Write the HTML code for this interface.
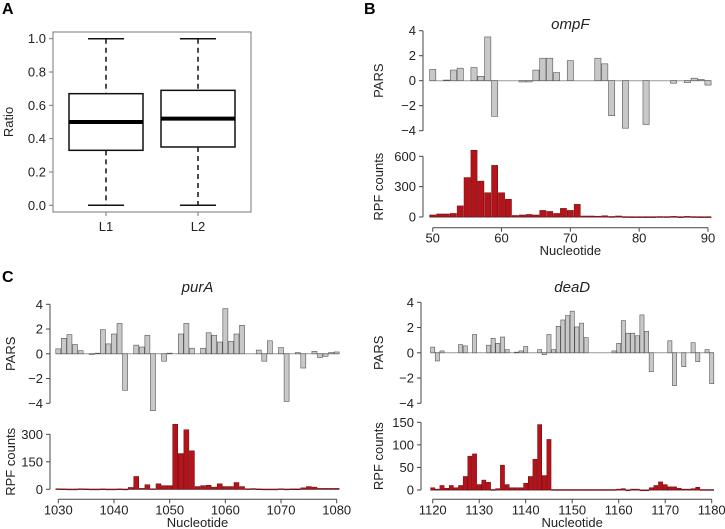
<!DOCTYPE html>
<html><head><meta charset="utf-8"><style>
body{margin:0;background:#fff}
svg{display:block;font-family:"Liberation Sans",sans-serif}
</style></head><body>
<svg id="fig" width="725" height="529" viewBox="0 0 725 529">
<text x="2" y="14" font-size="16" font-weight="bold">A</text>
<text x="364" y="14" font-size="16" font-weight="bold">B</text>
<text x="2" y="282" font-size="16" font-weight="bold">C</text>
</svg>
<script>
const boxCats=["L1","L2"];
const boxMin=[0,0];
const boxQ1=[0.33,0.35];
const boxMed=[0.50,0.52];
const boxQ3=[0.67,0.69];
const boxMax=[1,1];
const boxTicks=[0,0.2,0.4,0.6,0.8,1.0];

const ompfStart=50;
const ompfPars=[0.9,0,0.05,0.85,1.0,0,1.05,0.35,3.5,-2.85,0,0,0,-0.1,-0.1,0.85,1.8,1.8,0.65,0,1.6,0,0,0,1.8,1.35,-2.8,0,-3.8,0,0,-3.5,0,0,0,-0.2,0,-0.15,0.2,0.1,-0.35];
const ompfRpf=[20,30,30,35,110,390,660,355,240,510,240,175,15,20,25,20,65,55,35,85,65,125,10,10,8,12,5,10,3,2,2,2,2,4,3,6,2,6,3,2,2];
const ompfXTicks=[50,60,70,80,90];
const ompfRpfTicks=[0,300,600];

const puraStart=1030;
const puraPars=[0.4,1.25,1.55,0.75,0.25,0,-0.05,0.05,1.95,0.8,1.6,2.45,-2.95,0,0.7,0.55,1.5,-4.6,0,-0.6,0.05,0,1.6,2.45,0.45,0,0.45,1.7,1.5,0.95,3.65,1.0,1.6,2.3,0,0,0.3,-0.6,1.05,0,0.5,-3.85,0,0.1,-1.15,0,0.2,-0.3,-0.2,0.1,0.15];
const puraRpf=[3,2,1,1,3,2,1,1,2,1,1,2,1,10,70,5,25,3,30,20,20,355,195,325,210,15,20,22,12,30,15,15,37,15,3,4,2,1,1,1,3,1,2,2,8,15,12,5,5,5,5];
const puraXTicks=[1030,1040,1050,1060,1070,1080];
const puraRpfTicks=[0,150,300];

const deadStart=1120;
const deadPars=[0.45,-0.65,0.15,0,0,0,0.65,0.55,0,1.45,0,0,0.6,1.15,0.75,1.25,0.25,0,0.05,0.15,0.5,0,0,0.25,-0.15,1.45,0.25,2.1,2.6,2.95,3.3,2.05,2.35,1.2,0,0,0,0,0,0.15,0.75,2.55,1.55,1.55,1.35,3.0,1.7,-1.5,0,0,0,0.95,-2.6,0,-1.1,0,0.8,-0.7,0,0.25,-2.45];
const deadRpf=[5,2,10,4,10,5,10,30,75,80,12,22,17,1,3,55,12,5,5,5,15,30,68,145,32,112,1,1,1,1,1,1,1,1,1,1,1,1,1,1,2,3,0,2,2,0,0,5,10,18,12,7,7,4,2,2,3,6,1,1,1];
const deadXTicks=[1120,1130,1140,1150,1160,1170,1180];
const deadRpfTicks=[0,50,100,150];

const parsTicks=[-4,-2,0,2,4];

const svg=document.getElementById('fig');
const NS="http://www.w3.org/2000/svg";
function mk(tag,attrs,parent){const e=document.createElementNS(NS,tag);for(const k in attrs)e.setAttribute(k,attrs[k]);(parent||svg).appendChild(e);return e;}
function txt(x,y,s,size,anchor,parent,extra){const t=mk('text',Object.assign({x:x,y:y,'font-size':size,'text-anchor':anchor,fill:'#222'},extra||{}),parent);t.textContent=s;return t;}

// Panel A
(function(){
  const g=mk('g',{});
  
  
  const y=v=>205.3-v*(205.3-38.7);
  const xs=[106,198];
  const frame=mk('rect',{x:53,y:32,width:198,height:180,fill:'none',stroke:'#777','stroke-width':1},g);
  
  
  boxTicks.forEach(v=>{
    mk('line',{x1:49,x2:53,y1:y(v),y2:y(v),stroke:'#777'},g);
    const t=txt(46,y(v)+4.5,v.toFixed(1),13,'end',g);
    
    
  });
  const yt=txt(0,0,'Ratio',13,'middle',g,{transform:'translate(13,122) rotate(-90)'});
  
  
  boxCats.forEach((c,i)=>{
    const x=xs[i];
    const bg=mk('g',{},g);
    
    
    mk('line',{x1:x,x2:x,y1:y(boxMax[i]),y2:y(boxQ3[i]),stroke:'#111','stroke-width':1.5,'stroke-dasharray':'5,4'},bg);
    mk('line',{x1:x,x2:x,y1:y(boxQ1[i]),y2:y(boxMin[i]),stroke:'#111','stroke-width':1.5,'stroke-dasharray':'5,4'},bg);
    mk('line',{x1:x-18,x2:x+18,y1:y(boxMax[i]),y2:y(boxMax[i]),stroke:'#111','stroke-width':1.5},bg);
    mk('line',{x1:x-18,x2:x+18,y1:y(boxMin[i]),y2:y(boxMin[i]),stroke:'#111','stroke-width':1.5},bg);
    mk('rect',{x:x-37,y:y(boxQ3[i]),width:74,height:y(boxQ1[i])-y(boxQ3[i]),fill:'#fff',stroke:'#111','stroke-width':1.5},bg);
    mk('line',{x1:x-37,x2:x+37,y1:y(boxMed[i]),y2:y(boxMed[i]),stroke:'#000','stroke-width':4},bg);
    mk('line',{x1:x,x2:x,y1:212,y2:216,stroke:'#777'},g);
    const t=txt(x,231,c,13,'middle',g);
    
    
  });
})();

function panel(name,cfg){
  const g=mk('g',{});
  
  
  const n=cfg.pars.length;
  const x0=cfg.xl, x1=cfg.xr, s=cfg.start, e=cfg.start+n-1;
  const x=v=>x0+(v-s)*(x1-x0)/(e-s);
  const bw=(x1-x0)/(e-s)*0.9;
  const py=v=>cfg.p0+(cfg.p4-cfg.p0)*v/4;
  const ry=v=>cfg.r0-(cfg.r0-cfg.rTop)*v/cfg.rMaxTick;
  const tt=txt((x0+x1)/2,cfg.titleY,name,15,'middle',g,{'font-style':'italic'});
  
  
  mk('line',{x1:cfg.ax,x2:cfg.ax,y1:py(4),y2:py(-4),stroke:'#444'},g);
  parsTicks.forEach(v=>{
    mk('line',{x1:cfg.ax-4,x2:cfg.ax,y1:py(v),y2:py(v),stroke:'#444'},g);
    const t=txt(cfg.ax-7,py(v)+4.5,v<0?'\u2212'+(-v):String(v),13,'end',g);
    
    
  });
  const pt=txt(0,0,'PARS',13,'middle',g,{transform:'translate('+cfg.titleX+','+py(0)+') rotate(-90)'});
  
  
  mk('line',{x1:x0-bw/2,x2:x1+bw/2,y1:py(0),y2:py(0),stroke:'#999','stroke-width':1},g);
  cfg.pars.forEach((v,i)=>{
    if(v===0)return;
    const xc=x(s+i);
    const r=mk('rect',{x:xc-bw/2,y:Math.min(py(v),py(0)),width:bw,height:Math.abs(py(v)-py(0)),fill:'#c8c8c8',stroke:'#555','stroke-width':0.6},g);
    
    
  });
  const rt=cfg.rpfTicks;
  mk('line',{x1:cfg.ax,x2:cfg.ax,y1:ry(rt[rt.length-1]),y2:ry(0),stroke:'#444'},g);
  rt.forEach(v=>{
    mk('line',{x1:cfg.ax-4,x2:cfg.ax,y1:ry(v),y2:ry(v),stroke:'#444'},g);
    const t=txt(cfg.ax-7,ry(v)+4.5,String(v),13,'end',g);
    
    
  });
  const rtt=txt(0,0,'RPF counts',13,'middle',g,{transform:'translate('+cfg.titleX+','+((ry(0)+ry(rt[rt.length-1]))/2)+') rotate(-90)'});
  
  
  mk('line',{x1:x0-bw/2,x2:x1+bw/2,y1:ry(0),y2:ry(0),stroke:'#aaa','stroke-width':1.5},g);
  cfg.rpf.forEach((v,i)=>{
    const xc=x(s+i);
    const r=mk('rect',{x:xc-bw/2,y:ry(v),width:bw,height:Math.max(ry(0)-ry(v),0.8),fill:'#b5131a',stroke:'#6a0a0e','stroke-width':0.5},g);
    
    
  });
  mk('line',{x1:x(cfg.xTicks[0]),x2:x(cfg.xTicks[cfg.xTicks.length-1]),y1:cfg.xaxY,y2:cfg.xaxY,stroke:'#444'},g);
  cfg.xTicks.forEach(v=>{
    mk('line',{x1:x(v),x2:x(v),y1:cfg.xaxY,y2:cfg.xaxY+4,stroke:'#444'},g);
    const t=txt(x(v),cfg.xaxY+15,String(v),13,'middle',g);
    
    
  });
  const xt=txt((x0+x1)/2,cfg.xaxY+27.5,'Nucleotide',13,'middle',g);
  
  
}

panel('ompF',{pars:ompfPars,rpf:ompfRpf,start:ompfStart,xl:432.7,xr:708,ax:423,titleX:383,p0:80.7,p4:30.7,r0:217,rTop:156.3,rMaxTick:600,rpfTicks:ompfRpfTicks,xTicks:ompfXTicks,xaxY:227.7,titleY:29});
panel('purA',{pars:puraPars,rpf:puraRpf,start:puraStart,xl:58.3,xr:336.7,ax:50,titleX:15,p0:353.8,p4:304.3,r0:489.3,rTop:434.3,rMaxTick:300,rpfTicks:puraRpfTicks,xTicks:puraXTicks,xaxY:499.3,titleY:292});
panel('deaD',{pars:deadPars,rpf:deadRpf,start:deadStart,xl:432.7,xr:711.7,ax:421,titleX:383,p0:352.8,p4:302.3,r0:490,rTop:422.3,rMaxTick:150,rpfTicks:deadRpfTicks,xTicks:deadXTicks,xaxY:499.3,titleY:292});
</script>
</body></html>
